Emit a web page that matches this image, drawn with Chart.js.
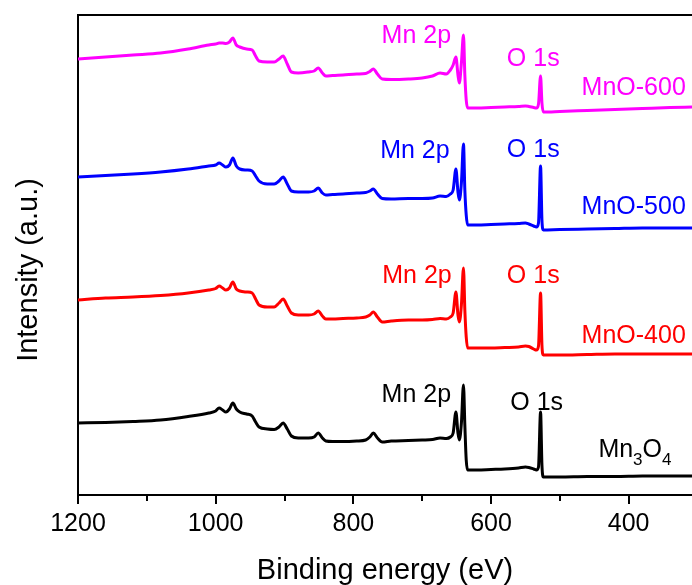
<!DOCTYPE html>
<html>
<head>
<meta charset="utf-8">
<script src="https://cdn.jsdelivr.net/npm/chart.js@4.4.1/dist/chart.umd.min.js"></script>
<style>
  html, body { margin: 0; padding: 0; background: #fff; }
  #wrap { width: 692px; height: 585px; position: relative; }
</style>
</head>
<body>
<div id="wrap"><canvas id="xpsChart"></canvas></div>
<script>
// Binding energies (eV), shared by all four spectra
const energies = [1200, 1160, 1120, 1080, 1040, 1010, 1000, 995, 990, 985, 980, 975, 970, 965, 955, 947, 942, 937, 925, 915, 908, 902, 896, 890, 880, 865, 857, 851, 845, 840, 830, 815, 795, 782, 776, 771, 765, 758, 745, 720, 700, 685, 674, 665, 659, 655, 651, 648, 646, 643, 640, 638, 636, 634, 620, 600, 580, 560, 550, 545, 538, 534, 531, 528, 526, 524, 500, 460, 420, 380, 340, 308];

// Intensities (a.u.), stacked with offsets
const mn3o4 = [72, 72.5, 73.5, 75, 78.5, 82, 84, 87, 85, 83, 86, 92, 86, 83, 81, 79, 73, 68, 66, 65.5, 68, 72, 66, 59, 57, 57, 58, 62, 57, 54, 53.5, 53.5, 54, 55, 58, 62, 57, 53, 54, 54.5, 55, 55.5, 57, 56.5, 58, 62, 83, 62, 55, 72, 110, 70, 35, 25, 25, 25.5, 26, 27, 28, 27.5, 26, 25, 28, 83, 30, 18, 18, 18.5, 18.5, 19, 19, 19];
const mno400 = [195, 197, 198, 199.5, 202, 205, 206.5, 209, 207, 205, 207, 213, 206, 204, 203, 202, 196, 190, 188, 188, 192, 196, 189, 182, 180, 180, 181, 184, 179, 176, 176, 176.5, 177, 178, 180, 183, 178, 173, 174, 175, 175, 175.5, 176.5, 176, 178, 182, 203, 180, 173, 190, 227, 185, 158, 147, 147, 147, 147.5, 148, 149, 148.5, 146, 145, 149, 202, 150, 140, 140, 140.5, 141, 141, 141, 141];
const mno500 = [318, 319.5, 321, 323, 326, 329, 330, 332, 330, 328, 330, 337, 329, 326, 325, 324, 319, 314, 311, 311, 314, 318, 311, 304, 303, 303, 304, 307, 302, 300, 300.5, 301, 302, 302.5, 304, 306, 301, 296.5, 296, 296.5, 296.5, 297, 299, 298.5, 301, 305, 326, 303, 295, 312, 351, 305, 280, 270, 270, 270.5, 271, 271.5, 272, 271, 269, 268, 272, 329, 275, 265, 265.5, 266, 266.5, 267, 267, 267];
const mno600 = [436, 438, 440, 442, 446, 450, 451, 452, 452, 451.5, 453, 457, 450, 448, 446, 445, 439, 434, 433, 433, 436, 439, 431, 423, 422, 423, 424, 427, 422, 419, 419.5, 420, 421, 421.5, 423.5, 426, 421, 416, 415.5, 416, 417, 419, 422, 421, 425, 430, 438, 420, 412, 432, 460, 420, 395, 387, 387, 387.5, 388, 388.5, 389, 388.5, 387.5, 387, 391, 419, 392, 383, 383.5, 384.5, 385.5, 386.5, 387.5, 388];

const seriesNames = ['Mn3O4', 'MnO-400', 'MnO-500', 'MnO-600'];
const seriesColors = ['#000000', '#ff0000', '#0000ff', '#ff00ff'];

// Axis ticks
const majorTicks = [1200, 1000, 800, 600, 400];
const minorTicks = [1100, 900, 700, 500];
const xTitle = 'Binding energy (eV)';
const yTitle = 'Intensity (a.u.)';

// Peak annotations: [text, energy, intensity, colour index]
const peakLabels = [
  ['Mn 2p', 759, 93, 0], ['O 1s', 572, 85, 0],
  ['Mn 2p', 758, 212, 1], ['O 1s', 577, 212, 1], ['MnO-400', 317, 152, 1],
  ['Mn 2p', 761, 337, 2], ['O 1s', 577, 338, 2], ['MnO-500', 317, 281, 2],
  ['Mn 2p', 759, 452, 3], ['O 1s', 577, 429, 3], ['MnO-600', 317, 400, 3]
];

const FONT = '"Liberation Sans", Arial, sans-serif';

// Draws the frame top, minor ticks, y title and the peak labels
const decorPlugin = {
  id: 'decor',
  afterDraw(chart) {
    const ctx = chart.ctx;
    const area = chart.chartArea;
    const x = chart.scales.x;
    const y = chart.scales.y;
    ctx.save();
    ctx.strokeStyle = '#000';
    ctx.lineWidth = 2;
    ctx.beginPath();
    ctx.moveTo(area.left - 1, area.top);
    ctx.lineTo(area.right, area.top);
    ctx.stroke();
    minorTicks.forEach(v => {
      const px = Math.round(x.getPixelForValue(v));
      ctx.beginPath();
      ctx.moveTo(px, area.bottom);
      ctx.lineTo(px, area.bottom + 6);
      ctx.stroke();
    });

    ctx.translate(29, 270);
    ctx.rotate(-Math.PI / 2);
    ctx.fillStyle = '#000';
    ctx.font = '29px ' + FONT;
    ctx.textAlign = 'center';
    ctx.textBaseline = 'middle';
    ctx.fillText(yTitle, 0, 0);
    ctx.restore();

    ctx.save();
    ctx.font = '25px ' + FONT;
    ctx.textBaseline = 'alphabetic';
    peakLabels.forEach(([text, e, v, c]) => {
      ctx.fillStyle = seriesColors[c];
      ctx.textAlign = text.startsWith('MnO') ? 'right' : 'left';
      ctx.fillText(text, x.getPixelForValue(e), y.getPixelForValue(v));
    });
    // Mn3O4 with subscripts
    let px = x.getPixelForValue(444);
    const py = y.getPixelForValue(38);
    ctx.textAlign = 'left';
    ctx.fillStyle = seriesColors[0];
    [['Mn', 25, 0], ['3', 17, 8], ['O', 25, 0], ['4', 17, 8]].forEach(([t, s, dy]) => {
      ctx.font = s + 'px ' + FONT;
      ctx.fillText(t, px, py + dy);
      px += ctx.measureText(t).width;
    });
    ctx.restore();
  }
};

function createChart() {
  const spectra = [mn3o4, mno400, mno500, mno600];
  const ctx = document.getElementById('xpsChart').getContext('2d');
  new Chart(ctx, {
    type: 'line',
    data: {
      datasets: spectra.map((vals, i) => ({
        label: seriesNames[i],
        data: energies.map((e, j) => ({ x: e, y: vals[j] })),
        borderColor: seriesColors[i],
        borderWidth: 3,
        pointRadius: 0,
        cubicInterpolationMode: 'monotone'
      }))
    },
    options: {
      responsive: true,
      maintainAspectRatio: false,
      animation: false,
      layout: { padding: { top: 15, right: 0, left: 0, bottom: 0 } },
      plugins: { legend: { display: false }, tooltip: { enabled: false } },
      scales: {
        x: {
          type: 'linear',
          reverse: true,
          min: 308,
          max: 1200,
          afterBuildTicks: scale => { scale.ticks = majorTicks.map(v => ({ value: v })); },
          afterFit: scale => { scale.height = 90; },
          grid: { drawOnChartArea: false, drawTicks: true, tickLength: 9, color: '#000', lineWidth: 2 },
          border: { display: true, color: '#000', width: 2 },
          ticks: { color: '#000', font: { family: FONT, size: 25 }, padding: 5, maxRotation: 0, autoSkip: false, callback: v => String(v) },
          title: { display: true, text: xTitle, color: '#000', font: { family: FONT, size: 29 }, padding: { top: 0, bottom: -3 } }
        },
        y: {
          min: 0,
          max: 480,
          afterFit: scale => { scale.width = 78; },
          grid: { display: false },
          border: { display: true, color: '#000', width: 2 },
          ticks: { display: false }
        }
      }
    },
    plugins: [decorPlugin]
  });
}

document.addEventListener('DOMContentLoaded', createChart);
</script>
</body>
</html>
